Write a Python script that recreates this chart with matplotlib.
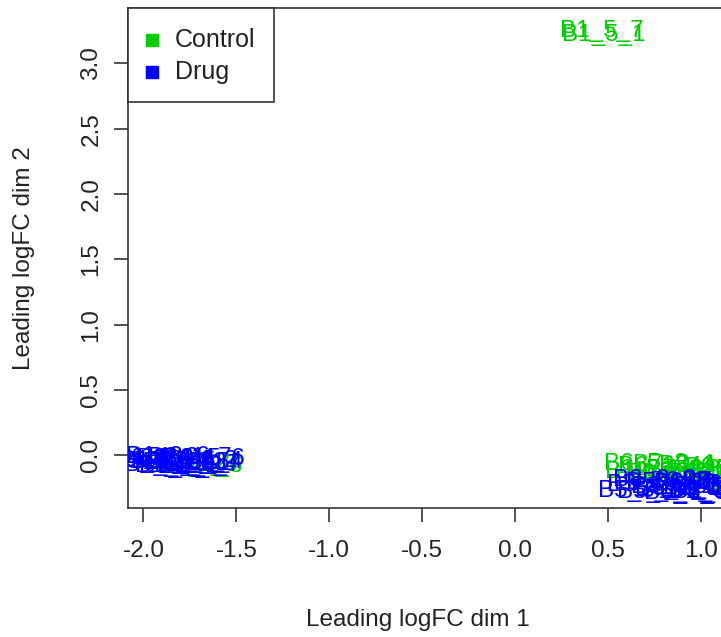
import matplotlib
matplotlib.use("Agg")
import matplotlib.pyplot as plt
from matplotlib.patches import Rectangle

plt.rcParams['font.family'] = ['Liberation Sans', 'DejaVu Sans']

# ---- data ----
ctrl_labels = ["B1_5_7", "B1_5_1",
               "B2_1_3", "B2_4_6", "B3_2_2",
               "B6_5_2", "B6_1_4", "B7_3_1", "B7_2_5", "B8_4_3", "B8_6_1",
               "B9_2_7", "B9_5_5", "B10_1_2", "B10_3_6", "B11_4_4", "B11_2_1",
               "B12_6_3", "B12_1_7"]
ctrl_x = [0.468, 0.476,
          -1.72, -1.69, -1.76,
          0.70, 0.78, 0.86, 0.93, 1.00, 1.07,
          1.14, 0.82, 0.95, 1.20, 1.28, 0.74,
          1.35, 1.05]
ctrl_y = [3.245, 3.22,
          -0.07, -0.085, -0.06,
          -0.065, -0.09, -0.07, -0.11, -0.08, -0.12,
          -0.10, -0.14, -0.16, -0.13, -0.11, -0.13,
          -0.15, -0.17]

drug_labels = ["B1_1_2", "B1_2_4", "B1_3_6", "B2_2_1", "B2_3_5", "B2_6_3",
               "B3_1_7", "B3_4_2", "B3_5_4", "B4_1_6", "B4_2_3", "B4_3_1",
               "B4_5_5", "B4_6_7", "B5_1_1", "B5_2_2",
               "B5_3_3", "B5_4_4", "B5_5_6", "B5_6_5", "B6_2_7", "B6_3_3",
               "B6_4_1", "B7_1_6", "B7_4_4", "B7_5_2", "B8_1_5", "B8_2_7",
               "B8_3_3", "B8_5_1", "B9_1_4", "B9_3_6", "B9_4_2", "B9_6_5"]
drug_x = [-1.93, -1.90, -1.87, -1.84, -1.81, -1.78,
          -1.75, -1.72, -1.69, -1.68, -1.88, -1.82,
          -1.76, -1.70, -1.95, -1.80,
          0.67, 0.72, 0.77, 0.82, 0.87, 0.92,
          0.97, 1.02, 1.07, 1.12, 1.17, 1.25,
          0.75, 0.85, 0.95, 1.05, 1.15, 1.30]
drug_y = [-0.02, -0.04, -0.01, -0.05, -0.03, -0.06,
          -0.02, -0.04, -0.05, -0.03, -0.07, -0.08,
          -0.06, -0.07, -0.05, -0.09,
          -0.27, -0.23, -0.28, -0.21, -0.26, -0.29,
          -0.22, -0.25, -0.28, -0.20, -0.24, -0.23,
          -0.19, -0.24, -0.20, -0.27, -0.22, -0.25]

groups = ["Control", "Drug"]
group_colors = ["#00CD00", "#0000FF"]

x_ticks = [-2.0, -1.5, -1.0, -0.5, 0.0, 0.5, 1.0, 1.5]
y_ticks = [0.0, 0.5, 1.0, 1.5, 2.0, 2.5, 3.0]

# ---- figure ----
W, H = 721, 637
fig = plt.figure(figsize=(W / 100, H / 100), dpi=100)
x_left_px, x_right_px = 127.5, 810.0
y_top_px, y_bot_px = 8.3, 508.3
ax_w_px = x_right_px - x_left_px
ax_h_px = y_bot_px - y_top_px
ax = fig.add_axes([x_left_px / W, 1 - y_bot_px / H, ax_w_px / W, ax_h_px / H])
ax.set_xlim(-2.086, 1.586)
ax.set_ylim(-0.405, 3.421)


def axfrac(px, py):
    """pixel position (from top-left of image) -> axes fraction"""
    return (px - x_left_px) / ax_w_px, (y_bot_px - py) / ax_h_px


fs = 17.5
for lab, xv, yv in zip(ctrl_labels, ctrl_x, ctrl_y):
    ax.text(xv, yv, lab, color=group_colors[0], fontsize=fs,
            ha='center', va='center', clip_on=True)
for lab, xv, yv in zip(drug_labels, drug_x, drug_y):
    ax.text(xv, yv, lab, color=group_colors[1], fontsize=fs,
            ha='center', va='center', clip_on=True)

ax.set_xticks(x_ticks)
ax.set_xticklabels([f"{v:.1f}" for v in x_ticks])
ax.set_yticks(y_ticks)
ax.set_yticklabels([f"{v:.1f}" for v in y_ticks])
ax.tick_params(axis='both', labelsize=fs, length=10, width=1.2,
               color='#333333', labelcolor='#222222')
ax.tick_params(axis='x', pad=13)
ax.tick_params(axis='y', pad=8, labelrotation=90)
for lbl in ax.get_yticklabels():
    lbl.set_verticalalignment('center')

for sp in ax.spines.values():
    sp.set_linewidth(1.2)
    sp.set_color('#333333')

ax.set_xlabel("Leading logFC dim 1", fontsize=fs, color='#222222')
ax.xaxis.set_label_coords(*axfrac(418, 620))
ax.xaxis.label.set_verticalalignment('center')
ax.set_ylabel("Leading logFC dim 2", fontsize=fs, color='#222222')
ax.yaxis.set_label_coords(axfrac(24, 0)[0], 0.5)
ax.yaxis.label.set_verticalalignment('center')

# ---- legend (R style box) ----
bx0, by0 = axfrac(127.5, 102)
bx1, by1 = axfrac(274, 8.3)
ax.add_patch(Rectangle((bx0, by0), bx1 - bx0, by1 - by0, transform=ax.transAxes,
                       facecolor='white', edgecolor='#333333', linewidth=1.2,
                       zorder=10, clip_on=False))
for i, (g, c) in enumerate(zip(groups, group_colors)):
    row_y = 40 + 32 * i
    mx, my = axfrac(152, row_y)
    ax.plot([mx], [my], marker='s', markersize=8.5, color=c, linestyle='none',
            transform=ax.transAxes, zorder=11, clip_on=False)
    tx, ty = axfrac(175, row_y)
    ax.text(tx, ty, g, transform=ax.transAxes, fontsize=18, color='#222222',
            ha='left', va='center', zorder=11)

fig.savefig("out.png", dpi=100)
